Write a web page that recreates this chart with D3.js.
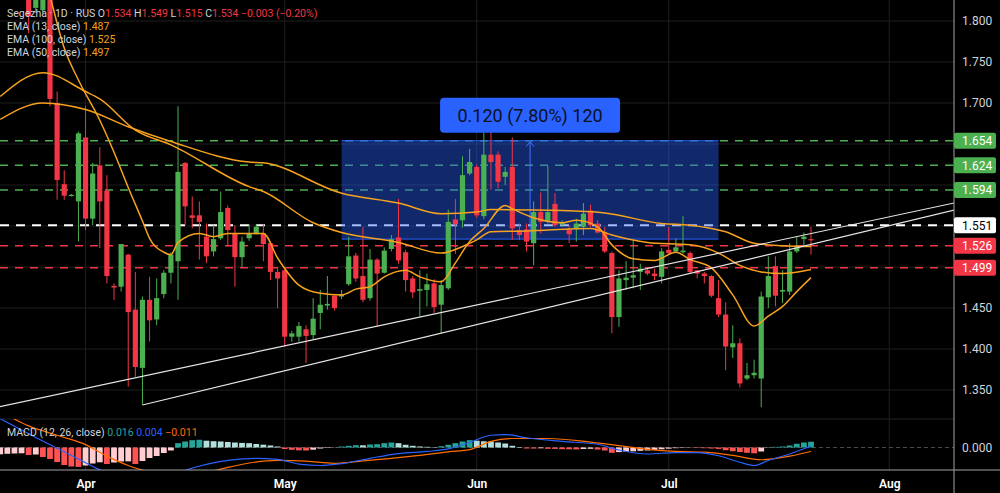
<!DOCTYPE html>
<html>
<head>
<meta charset="utf-8">
<script src="https://cdn.jsdelivr.net/npm/d3@7"></script>
<style>
  html, body { margin: 0; padding: 0; background: #000; }
  svg { display: block; font-family: Roboto, "Noto Sans", sans-serif; }
</style>
</head>
<body>
<svg id="chart" width="1000" height="493"></svg>
<script>
// ---- data ----
const priceTicks = [1.35, 1.40, 1.45, 1.50, 1.55, 1.60, 1.65, 1.70, 1.75, 1.80];
const monthLabels = ['Apr', 'May', 'Jun', 'Jul', 'Aug'];
const monthIdx = [5, 33, 60, 87, 118];

// daily candles, first one is bar index -3
const firstBar = -3;
const opens = [1.832, 1.816, 1.813, 1.840, 1.700, 1.601, 1.587, 1.580, 1.658, 1.559, 1.624, 1.593, 1.477, 1.476, 1.515, 1.448, 1.377, 1.460, 1.436, 1.467, 1.493, 1.507, 1.627, 1.563, 1.563, 1.537, 1.519, 1.535, 1.572, 1.541, 1.512, 1.535, 1.540, 1.541, 1.529, 1.494, 1.496, 1.415, 1.415, 1.424, 1.417, 1.444, 1.453, 1.465, 1.464, 1.479, 1.514, 1.489, 1.462, 1.509, 1.493, 1.522, 1.536, 1.518, 1.486, 1.471, 1.472, 1.480, 1.454, 1.474, 1.558, 1.557, 1.614, 1.622, 1.562, 1.637, 1.637, 1.610, 1.622, 1.545, 1.546, 1.529, 1.567, 1.555, 1.577, 1.552, 1.546, 1.547, 1.549, 1.569, 1.553, 1.542, 1.517, 1.439, 1.484, 1.487, 1.494, 1.496, 1.492, 1.488, 1.521, 1.519, 1.518, 1.517, 1.496, 1.492, 1.489, 1.462, 1.442, 1.402, 1.407, 1.364, 1.368, 1.364, 1.463, 1.501, 1.470, 1.470, 1.519, 1.534, 1.534];
const highs = [1.845, 1.850, 1.860, 1.850, 1.714, 1.618, 1.589, 1.665, 1.696, 1.627, 1.646, 1.612, 1.480, 1.528, 1.516, 1.494, 1.464, 1.488, 1.486, 1.496, 1.518, 1.696, 1.628, 1.586, 1.580, 1.553, 1.551, 1.592, 1.575, 1.551, 1.537, 1.552, 1.552, 1.552, 1.531, 1.500, 1.497, 1.422, 1.433, 1.429, 1.462, 1.472, 1.489, 1.467, 1.472, 1.537, 1.517, 1.549, 1.522, 1.511, 1.524, 1.539, 1.583, 1.521, 1.489, 1.496, 1.492, 1.485, 1.484, 1.570, 1.583, 1.635, 1.644, 1.625, 1.664, 1.677, 1.641, 1.622, 1.658, 1.553, 1.553, 1.580, 1.591, 1.623, 1.590, 1.557, 1.551, 1.559, 1.578, 1.576, 1.557, 1.549, 1.519, 1.496, 1.507, 1.533, 1.504, 1.500, 1.498, 1.523, 1.549, 1.535, 1.562, 1.519, 1.496, 1.494, 1.490, 1.484, 1.457, 1.429, 1.413, 1.383, 1.387, 1.470, 1.513, 1.513, 1.496, 1.529, 1.537, 1.542, 1.549];
const lows = [1.785, 1.810, 1.808, 1.696, 1.582, 1.582, 1.586, 1.531, 1.545, 1.551, 1.523, 1.480, 1.460, 1.470, 1.354, 1.366, 1.332, 1.409, 1.429, 1.462, 1.480, 1.460, 1.551, 1.547, 1.509, 1.505, 1.513, 1.533, 1.525, 1.476, 1.500, 1.532, 1.540, 1.507, 1.484, 1.450, 1.403, 1.409, 1.409, 1.383, 1.412, 1.424, 1.448, 1.447, 1.461, 1.477, 1.482, 1.457, 1.459, 1.427, 1.492, 1.519, 1.504, 1.470, 1.462, 1.439, 1.452, 1.444, 1.419, 1.472, 1.516, 1.548, 1.612, 1.560, 1.558, 1.594, 1.596, 1.600, 1.533, 1.533, 1.519, 1.502, 1.541, 1.553, 1.549, 1.549, 1.529, 1.531, 1.539, 1.549, 1.541, 1.517, 1.419, 1.427, 1.472, 1.474, 1.472, 1.490, 1.484, 1.480, 1.516, 1.517, 1.516, 1.492, 1.486, 1.480, 1.463, 1.439, 1.374, 1.389, 1.353, 1.362, 1.364, 1.329, 1.450, 1.452, 1.456, 1.466, 1.517, 1.525, 1.515];
const closes = [1.806, 1.840, 1.845, 1.705, 1.606, 1.587, 1.588, 1.663, 1.559, 1.614, 1.580, 1.489, 1.475, 1.528, 1.445, 1.378, 1.460, 1.435, 1.462, 1.493, 1.515, 1.616, 1.574, 1.560, 1.555, 1.513, 1.534, 1.567, 1.545, 1.512, 1.531, 1.541, 1.549, 1.528, 1.494, 1.486, 1.415, 1.419, 1.428, 1.416, 1.437, 1.454, 1.455, 1.450, 1.467, 1.513, 1.486, 1.460, 1.509, 1.492, 1.520, 1.534, 1.508, 1.484, 1.469, 1.473, 1.479, 1.451, 1.478, 1.555, 1.552, 1.612, 1.628, 1.563, 1.637, 1.628, 1.604, 1.616, 1.547, 1.539, 1.531, 1.567, 1.555, 1.567, 1.551, 1.554, 1.540, 1.553, 1.565, 1.551, 1.542, 1.519, 1.439, 1.486, 1.487, 1.490, 1.498, 1.492, 1.489, 1.519, 1.517, 1.524, 1.520, 1.494, 1.492, 1.489, 1.465, 1.442, 1.403, 1.407, 1.358, 1.368, 1.371, 1.464, 1.489, 1.465, 1.472, 1.519, 1.524, 1.537, 1.534];

// moving averages, read as (bar index, value) points
const ema13Idx = [-2, 0, 2, 4, 7, 9, 11, 13, 14, 16, 17, 18, 21, 23, 25, 28, 30, 32, 35, 38, 41, 43, 45, 47, 50, 52, 55, 57, 59, 61, 64, 65, 68, 72, 74, 77, 79, 82, 85, 88, 90, 93, 96, 99, 101, 103, 105, 107];
const ema13Val = [1.890, 1.830, 1.767, 1.728, 1.679, 1.640, 1.597, 1.556, 1.535, 1.518, 1.515, 1.530, 1.541, 1.537, 1.541, 1.541, 1.541, 1.511, 1.478, 1.468, 1.466, 1.473, 1.476, 1.488, 1.496, 1.488, 1.482, 1.505, 1.531, 1.547, 1.575, 1.571, 1.560, 1.554, 1.557, 1.549, 1.527, 1.510, 1.508, 1.518, 1.509, 1.499, 1.466, 1.428, 1.440, 1.452, 1.470, 1.487];
const ema50Idx = [-7, -1, 5, 7, 12, 17, 28, 30, 37, 41, 49, 55, 58, 60, 62, 67, 76, 79, 84, 90, 94, 97, 100, 103, 107];
const ema50Val = [1.708, 1.737, 1.714, 1.705, 1.667, 1.649, 1.598, 1.592, 1.554, 1.542, 1.530, 1.517, 1.525, 1.533, 1.543, 1.544, 1.547, 1.539, 1.530, 1.527, 1.517, 1.502, 1.494, 1.492, 1.497];
const ema100Idx = [-7, -1, 5, 11, 17, 28, 30, 41, 49, 55, 60, 62, 72, 78, 86, 90, 95, 99, 103, 107];
const ema100Val = [1.680, 1.700, 1.692, 1.671, 1.653, 1.628, 1.627, 1.590, 1.578, 1.565, 1.567, 1.570, 1.569, 1.566, 1.553, 1.551, 1.543, 1.529, 1.526, 1.525];

// MACD (12, 26): histogram per bar from index -7, lines as read points
const firstHist = -7;
const macdHist = [-0.0189, -0.0175, -0.0167, -0.0161, -0.0208, -0.0195, -0.0264, -0.0320, -0.0403, -0.0487, -0.0528, -0.0539, -0.0500, -0.0445, -0.0411, -0.0459, -0.0417, -0.0389, -0.0384, -0.0459, -0.0375, -0.0292, -0.0236, -0.0153, -0.0083, 0.0120, 0.0167, 0.0203, 0.0214, 0.0189, 0.0175, 0.0167, 0.0153, 0.0139, 0.0128, 0.0120, 0.0097, 0.0078, 0.0056, 0.0028, -0.0042, -0.0064, -0.0078, -0.0083, -0.0061, -0.0028, -0.0014, -0.0006, 0.0028, 0.0047, 0.0064, 0.0061, 0.0083, 0.0092, 0.0120, 0.0139, 0.0120, 0.0075, 0.0047, 0.0028, 0.0019, 0.0011, 0.0036, 0.0075, 0.0120, 0.0167, 0.0203, 0.0189, 0.0172, 0.0167, 0.0139, 0.0111, 0.0047, 0.0014, -0.0028, -0.0030, -0.0022, -0.0036, -0.0039, -0.0047, -0.0050, -0.0053, -0.0042, -0.0036, -0.0056, -0.0083, -0.0147, -0.0128, -0.0117, -0.0106, -0.0092, -0.0083, -0.0067, -0.0050, -0.0033, -0.0019, -0.0011, -0.0006, -0.0014, -0.0019, -0.0028, -0.0039, -0.0075, -0.0103, -0.0125, -0.0147, -0.0161, -0.0111, -0.0008, 0.0019, 0.0028, 0.0056, 0.0103, 0.0139, 0.0160];
const macdIdx = [-7, -2, 2, 4, 7, 10, 14, 17, 19, 22, 25, 29, 32, 35, 38, 41, 45, 49, 53, 56, 59, 62, 64, 67, 72, 77, 80, 84, 88, 91, 94, 97, 99, 101, 104, 107];
const macdVal = [0.080, 0.028, -0.012, -0.032, -0.062, -0.085, -0.097, -0.082, -0.064, -0.047, -0.036, -0.030, -0.033, -0.046, -0.050, -0.045, -0.030, -0.017, -0.011, -0.004, 0.014, 0.034, 0.036, 0.027, 0.017, 0.009, -0.007, -0.018, -0.014, -0.014, -0.023, -0.041, -0.050, -0.036, -0.018, 0.004];
const signalIdx = [-7, -3, 1, 5, 8, 11, 14, 18, 21, 24, 28, 32, 36, 40, 44, 48, 52, 56, 59, 62, 65, 70, 76, 80, 84, 88, 92, 96, 100, 104, 107];
const signalVal = [0.100, 0.060, 0.034, 0.008, -0.024, -0.050, -0.068, -0.085, -0.074, -0.060, -0.043, -0.036, -0.038, -0.044, -0.037, -0.030, -0.022, -0.012, -0.006, 0.017, 0.025, 0.025, 0.015, 0.005, -0.005, -0.011, -0.013, -0.022, -0.034, -0.024, -0.011];

// horizontal levels drawn on the chart
const levelValues = [1.654, 1.624, 1.594, 1.551, 1.526, 1.499];
const levelKinds = ['up', 'up', 'up', 'mid', 'down', 'down'];

// two trend lines (bar index, price) anchors
const trendA = [[-10, 1.3241], [130, 1.5834]];
const trendB = [[13, 1.3317], [130, 1.5755]];

// price range measure
const rangeIdx = [41, 94];
const rangePrice = [1.534, 1.654];
const rangeText = '0.120 (7.80%) 120';

// ---- layout ----
const paneRight = 954, priceBottom = 419, macdTop = 419, macdBottom = 470;
const GREEN = '#4caf50', RED = '#f23645', ORANGE = '#f6a21e', GRID = '#1f1f1f', TXT = '#d1d4dc';
const fmt = d3.format('.3f');

const svg = d3.select('#chart');

const x = d3.scaleLinear().domain([0, 107]).range([50, 811]);
const y = d3.scaleLinear().domain([1.35, 1.80]).range([390, 21]);
const ym = d3.scaleLinear().domain([-0.0625, 0.0625]).range([470, 425]);

const defs = svg.append('defs');
defs.append('clipPath').attr('id', 'clipPrice')
  .append('rect').attr('x', 0).attr('y', 0).attr('width', paneRight).attr('height', priceBottom);
defs.append('clipPath').attr('id', 'clipMacd')
  .append('rect').attr('x', 0).attr('y', macdTop).attr('width', paneRight).attr('height', macdBottom - macdTop);

svg.append('rect').attr('width', 1000).attr('height', 493).attr('fill', '#000');

// grid
const grid = svg.append('g');
grid.selectAll('line.h').data(priceTicks).join('line')
  .attr('x1', 0).attr('x2', paneRight)
  .attr('y1', d => y(d)).attr('y2', d => y(d))
  .attr('stroke', GRID);
grid.selectAll('line.v').data(monthIdx).join('line')
  .attr('x1', d => x(d)).attr('x2', d => x(d))
  .attr('y1', 0).attr('y2', macdBottom)
  .attr('stroke', GRID);
grid.append('line').attr('x1', 0).attr('x2', paneRight).attr('y1', priceBottom).attr('y2', priceBottom).attr('stroke', '#222');

const price = svg.append('g').attr('clip-path', 'url(#clipPrice)');

// dashed levels
const levelColor = { up: GREEN, mid: '#ffffff', down: RED };
price.selectAll('line.level').data(levelValues).join('line')
  .attr('x1', 0).attr('x2', paneRight)
  .attr('y1', d => y(d)).attr('y2', d => y(d))
  .attr('stroke', (d, i) => levelColor[levelKinds[i]])
  .attr('stroke-width', (d, i) => levelKinds[i] === 'mid' ? 2 : 1.5)
  .attr('stroke-dasharray', (d, i) => levelKinds[i] === 'mid' ? '9,7' : '8,7');

// price range box
price.append('rect')
  .attr('x', x(rangeIdx[0])).attr('width', x(rangeIdx[1]) - x(rangeIdx[0]))
  .attr('y', y(rangePrice[1])).attr('height', y(rangePrice[0]) - y(rangePrice[1]))
  .attr('fill', '#2962ff').attr('fill-opacity', 0.42);
rangePrice.forEach(p => {
  price.append('line')
    .attr('x1', x(rangeIdx[0])).attr('x2', x(rangeIdx[1]))
    .attr('y1', y(p)).attr('y2', y(p))
    .attr('stroke', '#2962ff').attr('stroke-width', 1);
});
const midX = (x(rangeIdx[0]) + x(rangeIdx[1])) / 2;
price.append('line')
  .attr('x1', midX).attr('x2', midX)
  .attr('y1', y(rangePrice[0])).attr('y2', y(rangePrice[1]) + 1)
  .attr('stroke', '#3d73ff').attr('stroke-width', 1);
price.append('path')
  .attr('d', `M${midX - 4},${y(rangePrice[1]) + 6} L${midX},${y(rangePrice[1]) + 1} L${midX + 4},${y(rangePrice[1]) + 6}`)
  .attr('fill', 'none').attr('stroke', '#3d73ff').attr('stroke-width', 1);

// candles
const candles = opens.map((o, k) => ({
  i: firstBar + k, o, h: highs[k], l: lows[k], c: closes[k],
  up: closes[k] > o || (closes[k] === o && k > 0 && closes[k] >= closes[k - 1])
}));
const cg = price.append('g');
cg.selectAll('line').data(candles).join('line')
  .attr('x1', d => x(d.i)).attr('x2', d => x(d.i))
  .attr('y1', d => y(d.h)).attr('y2', d => y(d.l))
  .attr('stroke', d => d.up ? GREEN : RED).attr('stroke-width', 1);
cg.selectAll('rect').data(candles).join('rect')
  .attr('x', d => x(d.i) - 2.6).attr('width', 5.2)
  .attr('y', d => y(Math.max(d.o, d.c)))
  .attr('height', d => Math.max(1.2, Math.abs(y(d.o) - y(d.c))))
  .attr('fill', d => d.up ? GREEN : RED);

// EMAs
const emaLine = d3.line().x(d => x(d[0])).y(d => y(d[1])).curve(d3.curveMonotoneX);
[[ema13Idx, ema13Val], [ema50Idx, ema50Val], [ema100Idx, ema100Val]].forEach(([ix, v]) => {
  price.append('path').datum(d3.zip(ix, v))
    .attr('d', emaLine)
    .attr('fill', 'none').attr('stroke', ORANGE).attr('stroke-width', 1.5);
});

// trend lines
const tl = d3.line().x(d => x(d[0])).y(d => y(d[1]));
[trendA, trendB].forEach(t => {
  price.append('path').datum(t).attr('d', tl)
    .attr('fill', 'none').attr('stroke', '#e6e6e6').attr('stroke-width', 1.2);
});

// range label
const lw = 180, lh = 35;
svg.append('rect')
  .attr('x', midX - lw / 2).attr('y', y(rangePrice[1]) - 8 - lh)
  .attr('width', lw).attr('height', lh).attr('rx', 4)
  .attr('fill', '#2962ff');
svg.append('text')
  .attr('x', midX).attr('y', y(rangePrice[1]) - 8 - lh / 2 + 6.5)
  .attr('text-anchor', 'middle')
  .attr('fill', '#0b1020').style('font-size', '18px')
  .text(rangeText);

// ---- MACD pane ----
const macd = svg.append('g').attr('clip-path', 'url(#clipMacd)');
macd.append('line')
  .attr('x1', 0).attr('x2', paneRight).attr('y1', ym(0)).attr('y2', ym(0))
  .attr('stroke', '#4a4a4a').attr('stroke-dasharray', '4,3');
const hist = macdHist.map((v, k) => ({ i: firstHist + k, v, prev: k > 0 ? macdHist[k - 1] : v }));
macd.selectAll('rect').data(hist).join('rect')
  .attr('x', d => x(d.i) - 2.9).attr('width', 5.8)
  .attr('y', d => Math.min(ym(0), ym(d.v)))
  .attr('height', d => Math.abs(ym(d.v) - ym(0)))
  .attr('fill', d => d.v >= 0
    ? (d.v > d.prev ? '#26a69a' : '#b2dfdb')
    : (d.v < d.prev ? '#ff5252' : '#ffcdd2'));
const mLine = d3.line().x(d => x(d[0])).y(d => ym(d[1])).curve(d3.curveMonotoneX);
macd.append('path').datum(d3.zip(signalIdx, signalVal)).attr('d', mLine)
  .attr('fill', 'none').attr('stroke', '#ff6d00').attr('stroke-width', 1.2);
macd.append('path').datum(d3.zip(macdIdx, macdVal)).attr('d', mLine)
  .attr('fill', 'none').attr('stroke', '#2962ff').attr('stroke-width', 1.2);

// ---- axes ----
svg.append('line').attr('x1', paneRight).attr('x2', paneRight).attr('y1', 0).attr('y2', 493)
  .attr('stroke', '#a3a3a3').attr('stroke-width', 1);
svg.append('line').attr('x1', 0).attr('x2', 1000).attr('y1', macdBottom).attr('y2', macdBottom)
  .attr('stroke', '#a3a3a3').attr('stroke-width', 1);

const styleAxis = (g, size, weight, color) => {
  g.select('.domain').remove();
  g.attr('font-family', null).attr('font-size', null);
  g.selectAll('text').attr('fill', color).style('font-size', size).style('font-weight', weight);
};
// axis labels that sit under a level tag are hidden, as on the chart
const freeTicks = priceTicks.filter(t => levelValues.every(l => Math.abs(y(t) - y(l)) > 12));
svg.append('g').attr('transform', `translate(${paneRight},0)`)
  .call(d3.axisRight(y).tickValues(freeTicks).tickFormat(fmt).tickSize(0).tickPadding(8))
  .call(g => styleAxis(g, '12px', 400, TXT));
svg.append('g').attr('transform', `translate(${paneRight},0)`)
  .call(d3.axisRight(ym).tickValues([0]).tickFormat(fmt).tickSize(0).tickPadding(8))
  .call(g => styleAxis(g, '12px', 400, TXT));
svg.append('g').attr('transform', `translate(0,${macdBottom})`)
  .call(d3.axisBottom(x).tickValues(monthIdx).tickFormat((d, i) => monthLabels[i]).tickSize(0).tickPadding(9))
  .call(g => styleAxis(g, '12px', 600, '#ffffff'));

// level tags on the price axis
const tagFill = { up: GREEN, mid: '#ffffff', down: RED };
const tagText = { up: '#ffffff', mid: '#000000', down: '#ffffff' };
const tags = svg.append('g').selectAll('g').data(levelValues).join('g')
  .attr('transform', d => `translate(${paneRight},${y(d)})`);
tags.append('rect').attr('x', 0).attr('y', -8).attr('width', 42).attr('height', 16).attr('rx', 2)
  .attr('fill', (d, i) => tagFill[levelKinds[i]]);
tags.append('text').attr('x', 8).attr('y', 4.5)
  .attr('fill', (d, i) => tagText[levelKinds[i]]).style('font-size', '12px')
  .text(d => fmt(d));

// ---- legends ----
const n = closes.length - 1;
const chg = closes[n] - closes[n - 1];
const leg = svg.append('text').attr('x', 7).attr('y', 17).style('font-size', '10.5px');
const legParts = [['Segezha · 1D · RUS ', TXT], ['O', TXT], [fmt(opens[n]) + ' ', RED], ['H', TXT], [fmt(highs[n]) + ' ', RED],
  ['L', TXT], [fmt(lows[n]) + ' ', RED], ['C', TXT], [fmt(closes[n]) + ' ', RED],
  [`${fmt(chg)} (${d3.format('.2f')(chg / closes[n - 1] * 100)}%)`, RED]];
legParts.forEach(([t, c]) => leg.append('tspan').attr('fill', c).text(t));

const emaNames = ['EMA (13, close)', 'EMA (100, close)', 'EMA (50, close)'];
const emaLast = [ema13Val[ema13Val.length - 1], ema100Val[ema100Val.length - 1], ema50Val[ema50Val.length - 1]];
emaNames.forEach((name, k) => {
  const t = svg.append('text').attr('x', 7).attr('y', 30 + k * 13).style('font-size', '10.5px');
  t.append('tspan').attr('fill', TXT).text(name + ' ');
  t.append('tspan').attr('fill', ORANGE).text(fmt(emaLast[k]));
});

const ml = svg.append('text').attr('x', 7).attr('y', 435.5).style('font-size', '10.5px');
ml.append('tspan').attr('fill', TXT).text('MACD (12, 26, close) ');
ml.append('tspan').attr('fill', '#26a69a').text(fmt(macdHist[macdHist.length - 1]) + ' ');
ml.append('tspan').attr('fill', '#2962ff').text(fmt(macdVal[macdVal.length - 1]) + ' ');
ml.append('tspan').attr('fill', '#ff6d00').text(fmt(signalVal[signalVal.length - 1]));
</script>
</body>
</html>
